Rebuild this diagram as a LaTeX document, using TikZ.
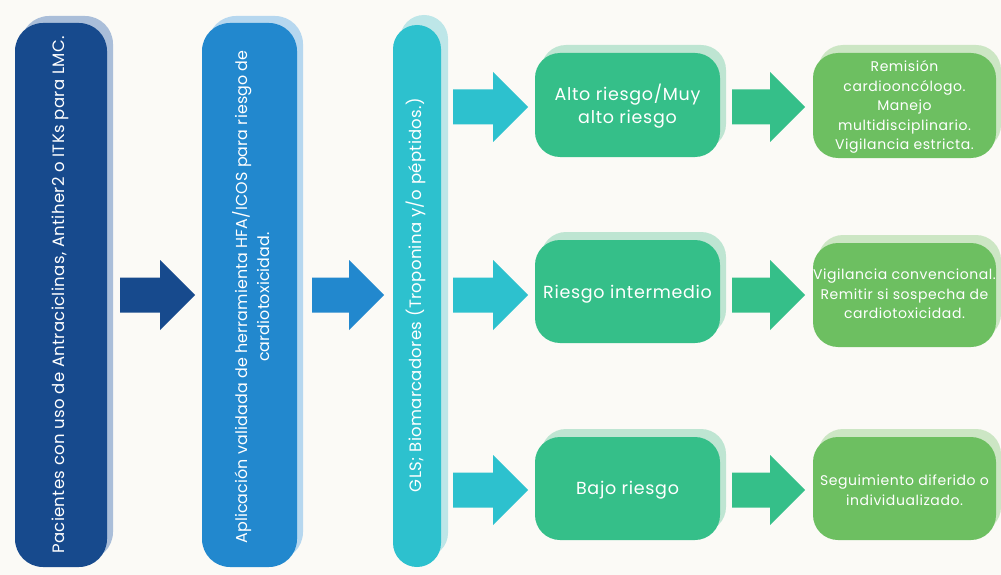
\documentclass[tikz,border=0pt]{standalone}
\usepackage{fontspec}
\setmainfont{Poppins}
\newfontfamily\wideA[LetterSpace=2]{Poppins}
\newfontfamily\wideB[LetterSpace=0.8]{Poppins}
\newfontfamily\wideC[LetterSpace=4]{Poppins}
\definecolor{bgc}{HTML}{FBFAF6}
\definecolor{navy}{HTML}{174A8D}
\definecolor{navysh}{HTML}{AABED9}
\definecolor{midblue}{HTML}{2288CE}
\definecolor{midbluesh}{HTML}{B6D7EF}
\definecolor{teal}{HTML}{2DC1CE}
\definecolor{tealsh}{HTML}{BDE6E8}
\definecolor{riskg}{HTML}{35BF89}
\definecolor{riskgsh}{HTML}{BEE5D2}
\definecolor{finalg}{HTML}{6DBF61}
\definecolor{finalgsh}{HTML}{CCE6C4}
\tikzset{
  vtext/.style={rotate=90, text=white, align=center, font=\wideA\fontsize{16.5}{22}\selectfont},
  vtextb/.style={rotate=90, text=white, align=center, font=\wideB\fontsize{15.9}{22}\selectfont},
  risktext/.style={text=white, align=center, font=\wideC\fontsize{17.5}{23}\selectfont},
  finaltext/.style={text=white, align=center, font=\wideC\fontsize{14}{19.5}\selectfont},
}
% rounded rectangle with shadow: colour, x1,y1,x2,y2, radius, shadow colour, dx, dy
\newcommand{\shadowbox}[9]{%
  \fill[#7, rounded corners=#6] ({#2+#8},{#3-#9}) rectangle ({#4+#8},{#5-#9});
  \fill[#1, rounded corners=#6] (#2,#3) rectangle (#4,#5);
}
% block arrow: x start, x tip, y centre, colour
\newcommand{\blockarrow}[4]{%
  \fill[#4] (#1,{#3-17.5}) -- ({#2-35},{#3-17.5}) -- ({#2-35},{#3-35}) -- (#2,#3)
    -- ({#2-35},{#3+35}) -- ({#2-35},{#3+17.5}) -- (#1,{#3+17.5}) -- cycle;
}
\begin{document}
\begin{tikzpicture}[x=1pt,y=-1pt]
\fill[bgc] (0,0) rectangle (1001,575);
\useasboundingbox (0,0) rectangle (1001,575);

% column boxes
\shadowbox{navy}{15}{23}{107}{567}{28}{navysh}{6}{7}
\shadowbox{midblue}{202}{23}{297}{567}{28}{midbluesh}{6}{7}
\shadowbox{teal}{393}{25}{441}{567}{24}{tealsh}{7}{10}

\node[vtext] (b1) at (60,295) {Pacientes con uso de Antraciclinas, Antiher2 o ITKs para LMC.};
\node[vtextb] (b2) at (251,297) {Aplicación validada de herramienta HFA/ICOS para riesgo de\\cardiotoxicidad.};
\node[vtext] (b3) at (416,295) {GLS; Biomarcadores (Troponina y/o péptidos.)};

% risk boxes
\shadowbox{riskg}{535}{53}{720}{157}{25}{riskgsh}{6}{8}
\shadowbox{riskg}{535}{240}{720}{343}{25}{riskgsh}{6}{8}
\shadowbox{riskg}{535}{437}{720}{540}{25}{riskgsh}{6}{8}
\node[risktext] (r1) at (627.5,106) {Alto riesgo/Muy\\alto riesgo};
\node[risktext] (r2) at (627.5,294) {Riesgo intermedio};
\node[risktext] (r3) at (627.5,490) {Bajo riesgo};

% final boxes
\shadowbox{finalg}{813}{53}{996}{158}{25}{finalgsh}{5}{8}
\shadowbox{finalg}{813}{243}{996}{347}{25}{finalgsh}{5}{8}
\shadowbox{finalg}{813}{437}{996}{540}{25}{finalgsh}{5}{8}
\node[finaltext] (f1) at (904.5,107) {Remisión\\cardiooncólogo.\\Manejo\\multidisciplinario.\\Vigilancia estricta.};
\node[finaltext] (f2) at (904.5,294) {Vigilancia convencional.\\Remitir si sospecha de\\cardiotoxicidad.};
\node[finaltext] (f3) at (904.5,490) {Seguimiento diferido o\\individualizado.};

% arrows
\blockarrow{120}{195}{295}{navy}
\blockarrow{312}{384}{295}{midblue}
\blockarrow{453}{528}{107}{teal}
\blockarrow{453}{528}{295}{teal}
\blockarrow{453}{528}{490}{teal}
\blockarrow{732}{805}{107}{riskg}
\blockarrow{732}{805}{295}{riskg}
\blockarrow{732}{805}{490}{riskg}
\end{tikzpicture}
\end{document}
